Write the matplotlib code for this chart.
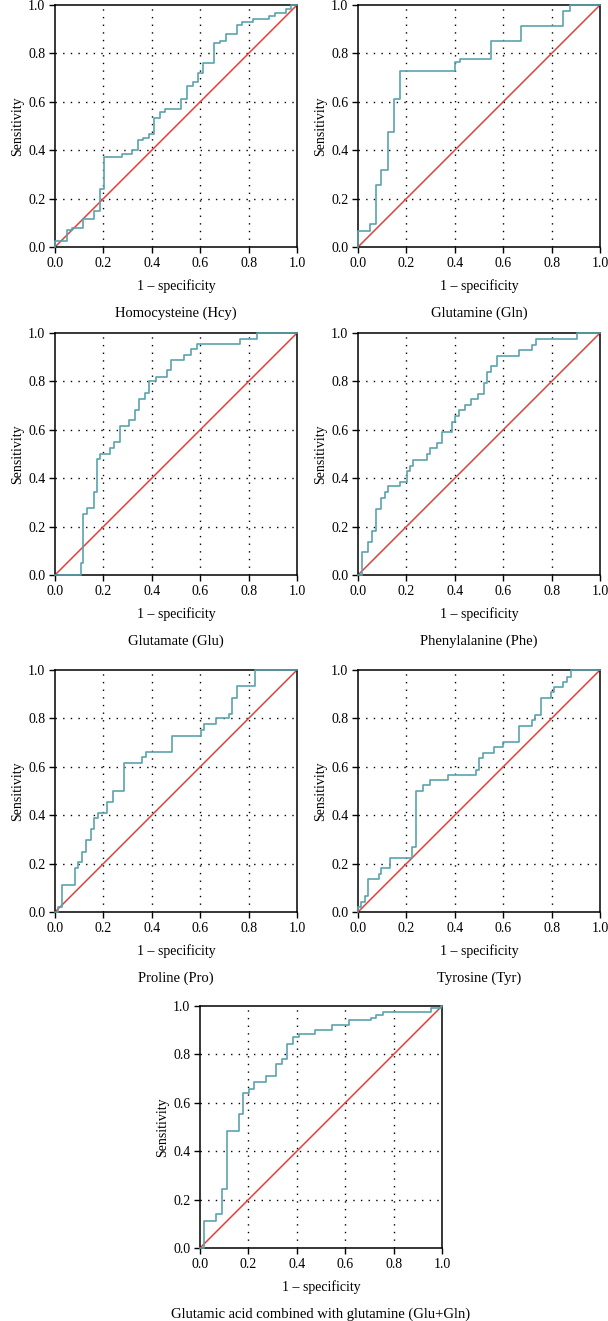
import matplotlib
matplotlib.use("Agg")
import matplotlib.pyplot as plt

plt.rcParams['font.family'] = ['Liberation Serif', 'DejaVu Serif']

# panel names
names = ["Homocysteine (Hcy)", "Glutamine (Gln)", "Glutamate (Glu)", "Phenylalanine (Phe)",
         "Proline (Pro)", "Tyrosine (Tyr)", "Glutamic acid combined with glutamine (Glu+Gln)"]

# ROC points: 1 - specificity at each vertical step, sensitivity after it
fpr_hcy = [0, 0, 0.048, 0.069, 0.114, 0.162, 0.185, 0.203, 0.275, 0.320, 0.341, 0.364, 0.387, 0.408, 0.433,
           0.453, 0.522, 0.545, 0.570, 0.592, 0.611, 0.657, 0.680, 0.707, 0.751, 0.773, 0.817, 0.886, 0.911,
           0.955, 0.975, 1.0]
tpr_hcy = [0, 0.025, 0.069, 0.079, 0.117, 0.148, 0.241, 0.372, 0.386, 0.400, 0.441, 0.452, 0.465, 0.535, 0.557,
           0.572, 0.611, 0.665, 0.681, 0.717, 0.759, 0.841, 0.852, 0.879, 0.917, 0.931, 0.942, 0.954, 0.968,
           0.982, 1.0, 1.0]

fpr_gln = [0, 0, 0.048, 0.073, 0.097, 0.123, 0.149, 0.174, 0.401, 0.42, 0.551, 0.673, 0.847, 0.874, 1.0]
tpr_gln = [0, 0.066, 0.094, 0.258, 0.317, 0.474, 0.610, 0.727, 0.766, 0.775, 0.850, 0.914, 0.975, 1.0, 1.0]

fpr_glu = [0, 0.106, 0.117, 0.133, 0.161, 0.172, 0.185, 0.227, 0.243, 0.268, 0.305, 0.330, 0.348, 0.372,
           0.387, 0.416, 0.464, 0.481, 0.533, 0.560, 0.588, 0.765, 0.834, 1.0]
tpr_glu = [0, 0.048, 0.251, 0.276, 0.342, 0.480, 0.500, 0.524, 0.548, 0.617, 0.639, 0.683, 0.728, 0.754,
           0.800, 0.818, 0.846, 0.887, 0.910, 0.934, 0.956, 0.977, 1.0, 1.0]

fpr_phe = [0, 0.018, 0.041, 0.058, 0.073, 0.097, 0.112, 0.126, 0.174, 0.201, 0.215, 0.229, 0.284, 0.297,
           0.325, 0.349, 0.390, 0.401, 0.418, 0.442, 0.468, 0.496, 0.522, 0.534, 0.549, 0.575, 0.667, 0.719,
           0.737, 0.904, 1.0]
tpr_phe = [0, 0.094, 0.138, 0.183, 0.274, 0.320, 0.342, 0.366, 0.386, 0.430, 0.452, 0.476, 0.500, 0.524,
           0.545, 0.590, 0.634, 0.659, 0.680, 0.703, 0.727, 0.749, 0.793, 0.839, 0.865, 0.906, 0.928, 0.952,
           0.975, 1.0, 1.0]

fpr_pro = [0, 0.012, 0.030, 0.082, 0.093, 0.110, 0.128, 0.148, 0.162, 0.176, 0.213, 0.240, 0.284, 0.361,
           0.378, 0.485, 0.602, 0.615, 0.666, 0.721, 0.732, 0.751, 0.828, 1.0]
tpr_pro = [0, 0.022, 0.113, 0.183, 0.205, 0.249, 0.297, 0.342, 0.387, 0.411, 0.456, 0.502, 0.615, 0.640,
           0.661, 0.729, 0.754, 0.775, 0.800, 0.820, 0.885, 0.934, 1.0, 1.0]

fpr_tyr = [0, 0, 0.014, 0.027, 0.041, 0.085, 0.096, 0.133, 0.222, 0.240, 0.267, 0.297, 0.373, 0.486, 0.500,
           0.516, 0.562, 0.599, 0.664, 0.719, 0.730, 0.756, 0.799, 0.811, 0.849, 0.864, 0.879, 1.0]
tpr_tyr = [0, 0.021, 0.041, 0.066, 0.136, 0.159, 0.180, 0.225, 0.270, 0.498, 0.523, 0.544, 0.567, 0.585, 0.636,
           0.657, 0.680, 0.703, 0.770, 0.793, 0.815, 0.885, 0.909, 0.929, 0.952, 0.972, 1.0, 1.0]

fpr_comb = [0, 0.018, 0.066, 0.089, 0.113, 0.161, 0.179, 0.203, 0.224, 0.271, 0.316, 0.339, 0.361, 0.385,
            0.408, 0.477, 0.545, 0.614, 0.705, 0.728, 0.755, 0.955, 0.996, 1.0]
tpr_comb = [0, 0.110, 0.141, 0.244, 0.482, 0.552, 0.642, 0.659, 0.684, 0.709, 0.762, 0.780, 0.843, 0.870,
            0.884, 0.900, 0.923, 0.942, 0.949, 0.964, 0.976, 0.990, 1.0, 1.0]

fprs = [fpr_hcy, fpr_gln, fpr_glu, fpr_phe, fpr_pro, fpr_tyr, fpr_comb]
tprs = [tpr_hcy, tpr_gln, tpr_glu, tpr_phe, tpr_pro, tpr_tyr, tpr_comb]

ticks = [0.0, 0.2, 0.4, 0.6, 0.8, 1.0]
tick_labels = ["0.0", "0.2", "0.4", "0.6", "0.8", "1.0"]

W, H = 608, 1321
fig = plt.figure(figsize=(W / 100, H / 100), dpi=100)

# axes boxes in pixels (left, top) ; every box is 242 x 242
boxes = [(55, 5), (358, 5), (55, 333), (358, 333), (55, 670), (358, 670), (200, 1006)]
size = 242

teal = "#5aa3ad"
red = "#e0413a"

for i in range(7):
    left, top = boxes[i]
    ax = fig.add_axes([left / W, (H - top - size) / H, size / W, size / H])
    ax.set_xlim(0, 1)
    ax.set_ylim(0, 1)

    for t in ticks[1:-1]:
        ax.axvline(t, color="black", lw=1.0, ls=(0, (1, 4.5)), zorder=1)
        ax.axhline(t, color="black", lw=1.0, ls=(0, (1, 4.5)), zorder=1)

    ax.plot([0, 1], [0, 1], color=red, lw=1.1, zorder=2)
    ax.plot(fprs[i], tprs[i], drawstyle="steps-post", color=teal, lw=1.2, zorder=3, clip_on=False)

    ax.set_xticks(ticks)
    ax.set_xticklabels(tick_labels)
    ax.set_yticks(ticks)
    ax.set_yticklabels(tick_labels)
    ax.tick_params(direction="out", length=4, width=1, labelsize=10, pad=3, colors="black")
    for s in ax.spines.values():
        s.set_linewidth(1.1)

    ax.set_ylabel("Sensitivity", fontsize=10, labelpad=2.5)
    ax.annotate("1 – specificity", xy=(0.5, 0), xycoords="axes fraction", xytext=(0, -28),
                textcoords="offset points", ha="center", va="center", fontsize=10)
    ax.annotate(names[i], xy=(0.5, 0), xycoords="axes fraction", xytext=(0, -48),
                textcoords="offset points", ha="center", va="center", fontsize=10.5)

fig.savefig("out.png", dpi=100)
